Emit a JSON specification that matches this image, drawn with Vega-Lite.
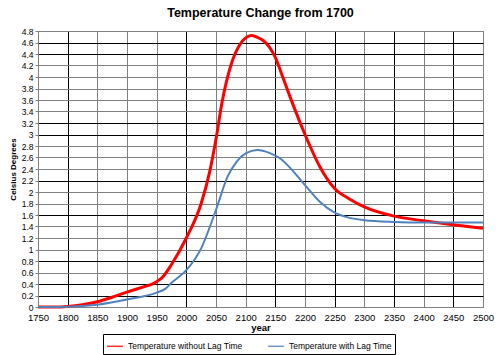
{
  "$schema": "https://vega.github.io/schema/vega-lite/v6.json",
  "width": 445,
  "height": 276,
  "autosize": {"type": "none"},
  "padding": {"left": 38, "top": 31, "right": 17, "bottom": 48},
  "background": "white",
  "title": {"text": "Temperature Change from 1700", "font": "Liberation Sans", "fontSize": 12.5, "fontWeight": "bold", "color": "black", "offset": 8},
  "config": {
    "view": {"stroke": "#808080", "strokeWidth": 1},
    "font": "Liberation Sans"
  },
  "data": {"values": [
    {"year": 1750, "temp": 0, "series": "Temperature without Lag Time"},
    {"year": 1775, "temp": 0, "series": "Temperature without Lag Time"},
    {"year": 1800, "temp": 0.01, "series": "Temperature without Lag Time"},
    {"year": 1825, "temp": 0.04, "series": "Temperature without Lag Time"},
    {"year": 1850, "temp": 0.09, "series": "Temperature without Lag Time"},
    {"year": 1875, "temp": 0.17, "series": "Temperature without Lag Time"},
    {"year": 1900, "temp": 0.26, "series": "Temperature without Lag Time"},
    {"year": 1925, "temp": 0.34, "series": "Temperature without Lag Time"},
    {"year": 1950, "temp": 0.44, "series": "Temperature without Lag Time"},
    {"year": 1960, "temp": 0.52, "series": "Temperature without Lag Time"},
    {"year": 1975, "temp": 0.74, "series": "Temperature without Lag Time"},
    {"year": 2000, "temp": 1.2, "series": "Temperature without Lag Time"},
    {"year": 2025, "temp": 1.8, "series": "Temperature without Lag Time"},
    {"year": 2040, "temp": 2.38, "series": "Temperature without Lag Time"},
    {"year": 2050, "temp": 2.92, "series": "Temperature without Lag Time"},
    {"year": 2060, "temp": 3.55, "series": "Temperature without Lag Time"},
    {"year": 2075, "temp": 4.2, "series": "Temperature without Lag Time"},
    {"year": 2090, "temp": 4.56, "series": "Temperature without Lag Time"},
    {"year": 2100, "temp": 4.68, "series": "Temperature without Lag Time"},
    {"year": 2110, "temp": 4.72, "series": "Temperature without Lag Time"},
    {"year": 2120, "temp": 4.69, "series": "Temperature without Lag Time"},
    {"year": 2130, "temp": 4.63, "series": "Temperature without Lag Time"},
    {"year": 2140, "temp": 4.52, "series": "Temperature without Lag Time"},
    {"year": 2150, "temp": 4.34, "series": "Temperature without Lag Time"},
    {"year": 2160, "temp": 4.07, "series": "Temperature without Lag Time"},
    {"year": 2175, "temp": 3.65, "series": "Temperature without Lag Time"},
    {"year": 2200, "temp": 3.0, "series": "Temperature without Lag Time"},
    {"year": 2225, "temp": 2.44, "series": "Temperature without Lag Time"},
    {"year": 2250, "temp": 2.06, "series": "Temperature without Lag Time"},
    {"year": 2275, "temp": 1.88, "series": "Temperature without Lag Time"},
    {"year": 2300, "temp": 1.74, "series": "Temperature without Lag Time"},
    {"year": 2350, "temp": 1.58, "series": "Temperature without Lag Time"},
    {"year": 2400, "temp": 1.5, "series": "Temperature without Lag Time"},
    {"year": 2450, "temp": 1.43, "series": "Temperature without Lag Time"},
    {"year": 2500, "temp": 1.37, "series": "Temperature without Lag Time"},
    {"year": 1750, "temp": 0, "series": "Temperature with Lag Time"},
    {"year": 1800, "temp": 0.005, "series": "Temperature with Lag Time"},
    {"year": 1850, "temp": 0.04, "series": "Temperature with Lag Time"},
    {"year": 1900, "temp": 0.13, "series": "Temperature with Lag Time"},
    {"year": 1950, "temp": 0.25, "series": "Temperature with Lag Time"},
    {"year": 1965, "temp": 0.32, "series": "Temperature with Lag Time"},
    {"year": 1975, "temp": 0.42, "series": "Temperature with Lag Time"},
    {"year": 2000, "temp": 0.64, "series": "Temperature with Lag Time"},
    {"year": 2025, "temp": 1.02, "series": "Temperature with Lag Time"},
    {"year": 2050, "temp": 1.69, "series": "Temperature with Lag Time"},
    {"year": 2070, "temp": 2.28, "series": "Temperature with Lag Time"},
    {"year": 2085, "temp": 2.53, "series": "Temperature with Lag Time"},
    {"year": 2100, "temp": 2.67, "series": "Temperature with Lag Time"},
    {"year": 2120, "temp": 2.73, "series": "Temperature with Lag Time"},
    {"year": 2140, "temp": 2.68, "series": "Temperature with Lag Time"},
    {"year": 2160, "temp": 2.57, "series": "Temperature with Lag Time"},
    {"year": 2175, "temp": 2.42, "series": "Temperature with Lag Time"},
    {"year": 2190, "temp": 2.24, "series": "Temperature with Lag Time"},
    {"year": 2200, "temp": 2.12, "series": "Temperature with Lag Time"},
    {"year": 2225, "temp": 1.83, "series": "Temperature with Lag Time"},
    {"year": 2250, "temp": 1.64, "series": "Temperature with Lag Time"},
    {"year": 2275, "temp": 1.55, "series": "Temperature with Lag Time"},
    {"year": 2300, "temp": 1.51, "series": "Temperature with Lag Time"},
    {"year": 2350, "temp": 1.48, "series": "Temperature with Lag Time"},
    {"year": 2400, "temp": 1.47, "series": "Temperature with Lag Time"},
    {"year": 2450, "temp": 1.47, "series": "Temperature with Lag Time"},
    {"year": 2500, "temp": 1.47, "series": "Temperature with Lag Time"}
  ]},
  "encoding": {
    "x": {
      "field": "year", "type": "quantitative",
      "scale": {"domain": [1750, 2500], "nice": false, "zero": false},
      "axis": {
        "values": [1750, 1800, 1850, 1900, 1950, 2000, 2050, 2100, 2150, 2200, 2250, 2300, 2350, 2400, 2450, 2500],
        "format": "d",
        "labelOverlap": false, "labelFlush": false,
        "title": "year",
        "titleFont": "Liberation Sans", "titleFontSize": 9.5, "titleFontWeight": "bold", "titleColor": "black", "titlePadding": 1,
        "labelFont": "Liberation Sans", "labelFontSize": 9.5, "labelColor": "black", "labelPadding": 5,
        "domain": true, "domainColor": "#808080",
        "ticks": false,
        "grid": true,
        "gridColor": {"condition": {"test": "indexof([1800, 2000, 2150, 2250, 2350, 2450], datum.value) >= 0", "value": "#000000"}, "value": "#808080"},
        "gridOpacity": 1, "gridWidth": 1
      }
    },
    "y": {
      "field": "temp", "type": "quantitative",
      "scale": {"domain": [0, 4.8], "nice": false},
      "axis": {
        "values": [0, 0.2, 0.4, 0.6, 0.8, 1, 1.2, 1.4, 1.6, 1.8, 2, 2.2, 2.4, 2.6, 2.8, 3, 3.2, 3.4, 3.6, 3.8, 4, 4.2, 4.4, 4.6, 4.8],
        "format": "~g",
        "labelOverlap": false,
        "title": "Celsius Degrees",
        "titleFont": "Liberation Sans", "titleFontSize": 8, "titleFontWeight": "bold", "titleColor": "black", "titlePadding": 4,
        "labelFont": "Liberation Sans", "labelFontSize": 8.5, "labelColor": "black", "labelPadding": 2,
        "domain": true, "domainColor": "#808080",
        "ticks": true, "tickSize": 3, "tickColor": "#808080",
        "grid": true,
        "gridColor": {"condition": {"test": "indexof([0.2, 0.4, 0.8, 1.6, 2.2, 3, 3.2, 4.4, 4.6], round(datum.value*10)/10) >= 0", "value": "#000000"}, "value": "#808080"},
        "gridOpacity": 1, "gridWidth": 1
      }
    },
    "color": {
      "field": "series", "type": "nominal",
      "scale": {"domain": ["Temperature without Lag Time", "Temperature with Lag Time"], "range": ["#FF0000", "#4F81BD"]},
      "legend": {
        "title": null, "orient": "none", "direction": "horizontal",
        "legendX": 65, "legendY": 303,
        "symbolType": "stroke", "symbolSize": 250, "symbolStrokeWidth": 1.2,
        "labelFont": "Liberation Sans", "labelFontSize": 8.5, "labelColor": "black",
        "strokeColor": "black", "padding": 3, "columnPadding": 22, "rowPadding": 0,
        "labelLimit": 200,
        "encode": {"symbols": {"update": {"strokeWidth": {"value": 1.2}}}}
      }
    }
  },
  "layer": [
    {
      "transform": [{"filter": "datum.series === 'Temperature without Lag Time'"}],
      "mark": {"type": "line", "interpolate": "monotone", "strokeWidth": 3}
    },
    {
      "transform": [{"filter": "datum.series === 'Temperature with Lag Time'"}],
      "mark": {"type": "line", "interpolate": "monotone", "strokeWidth": 2}
    }
  ]
}
